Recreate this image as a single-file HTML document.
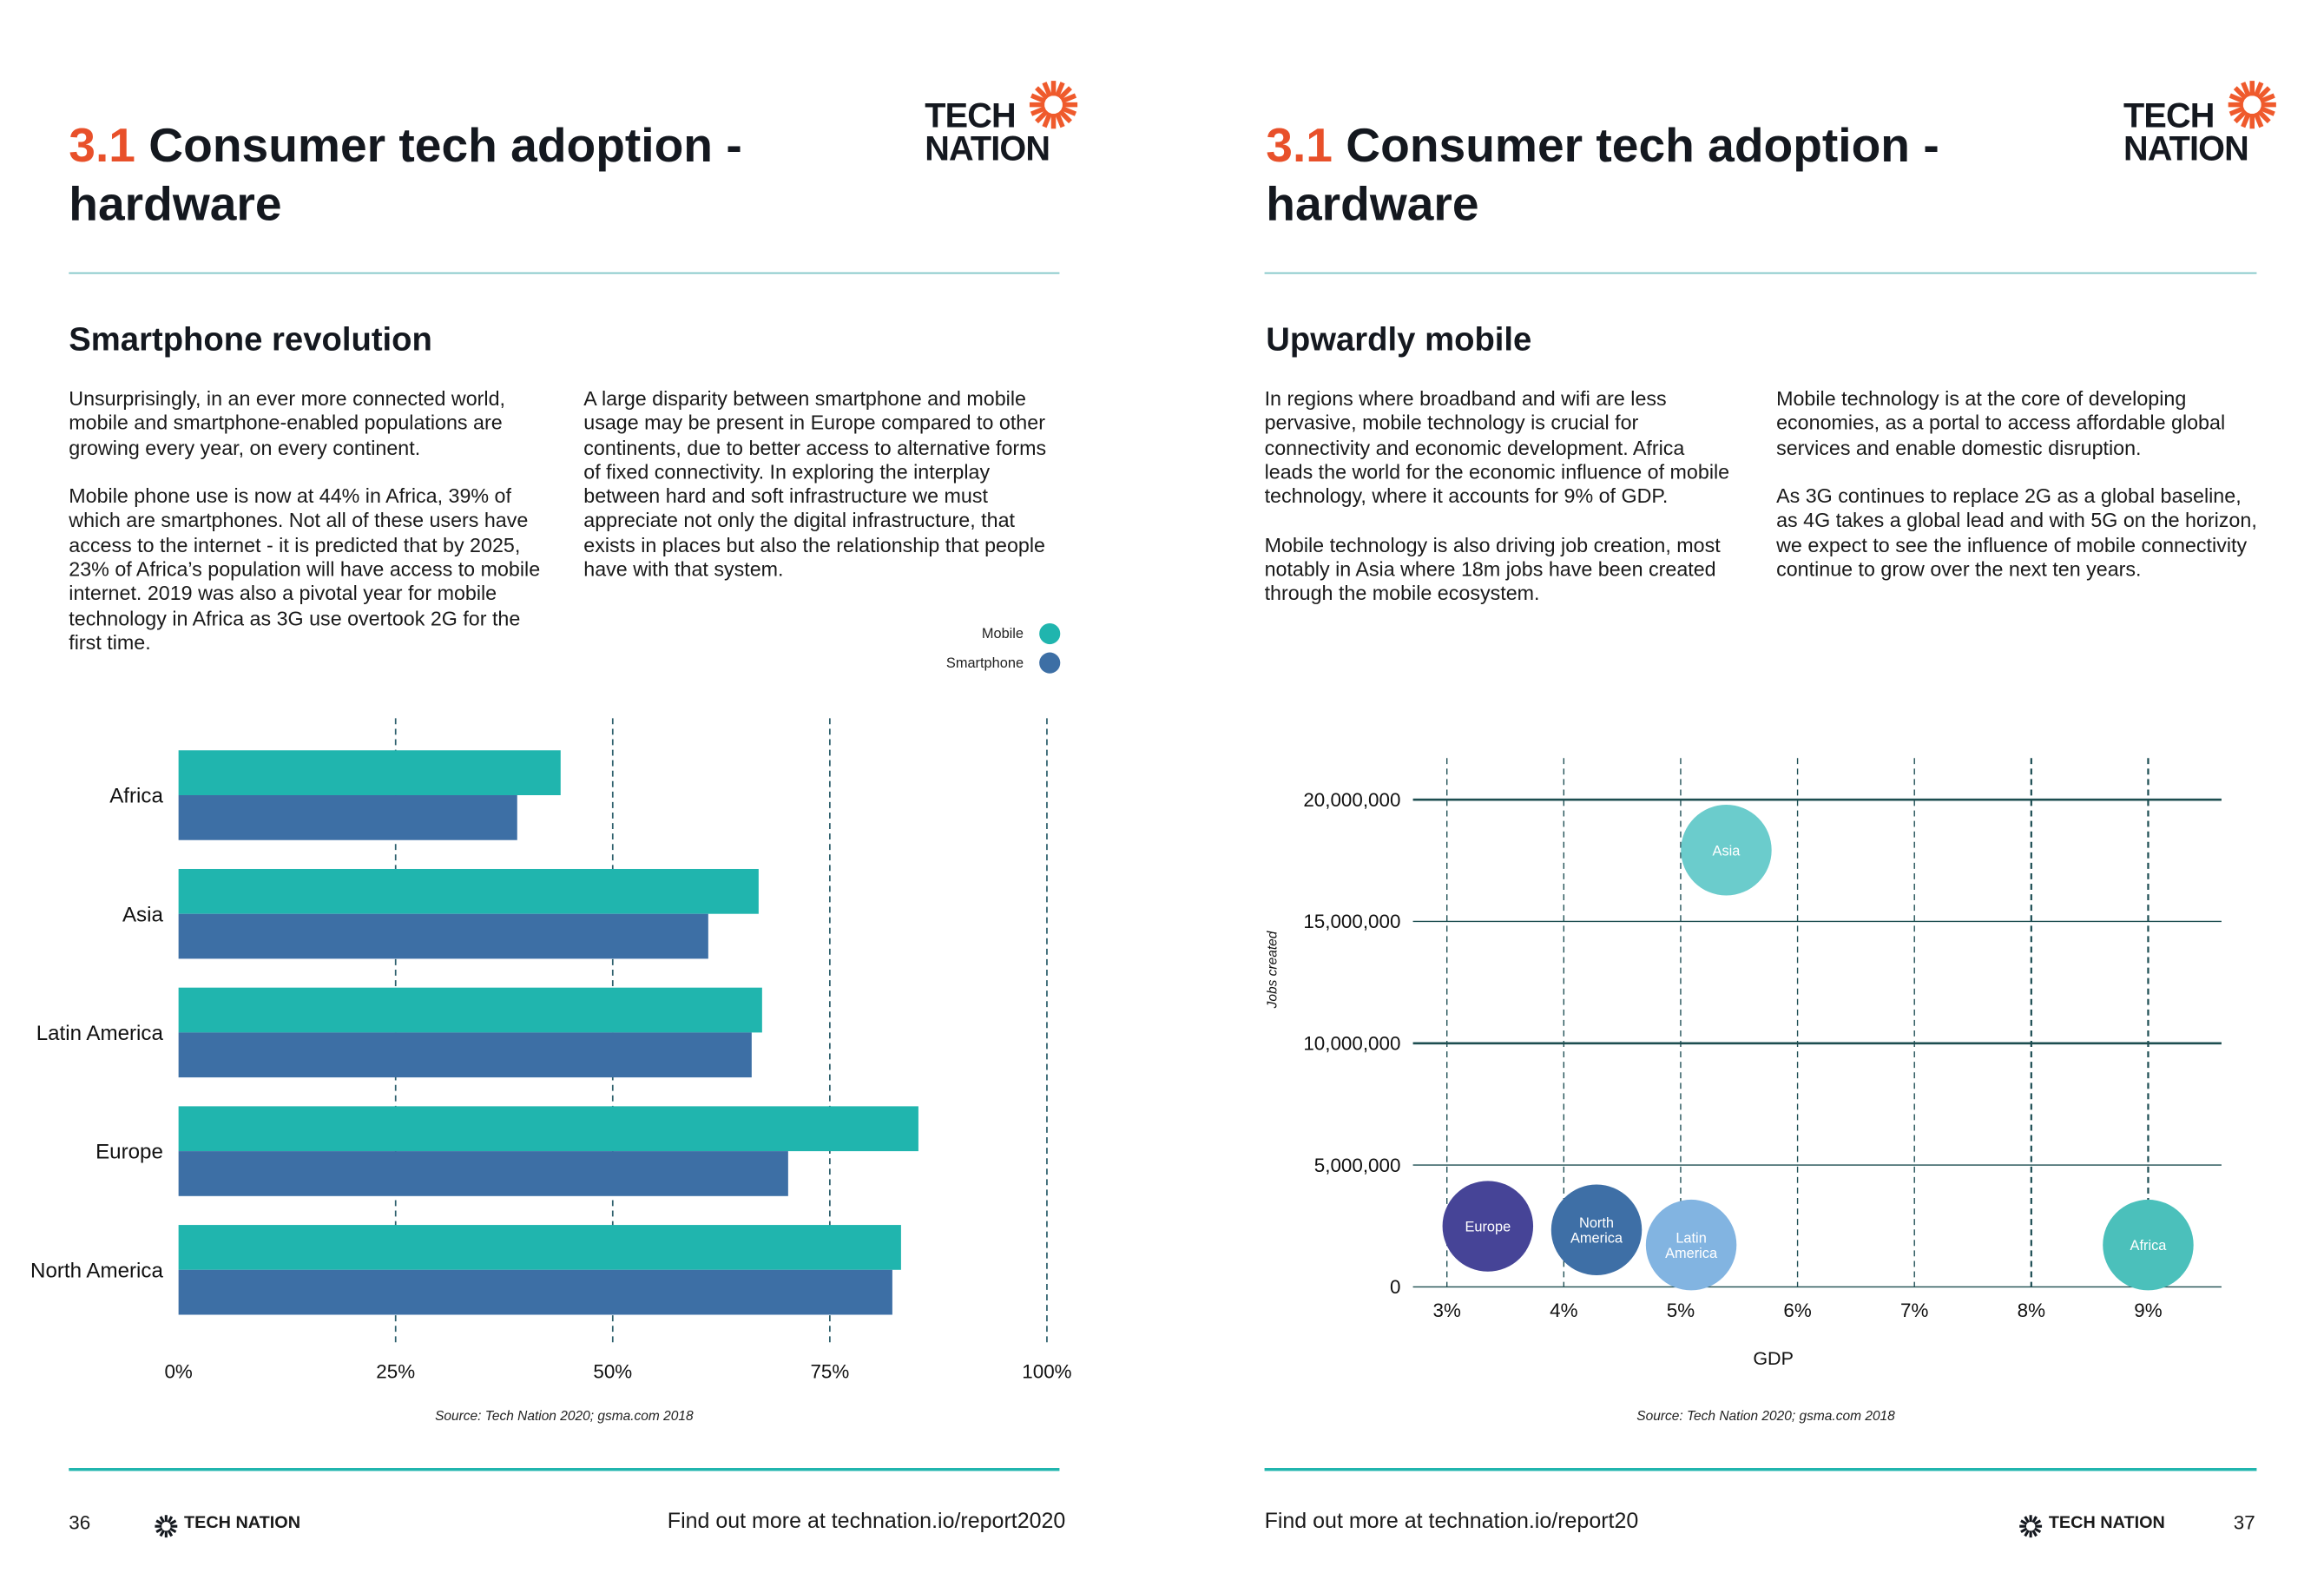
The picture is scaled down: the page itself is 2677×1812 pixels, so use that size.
<!DOCTYPE html>
<html><head><meta charset="utf-8">
<style>
html,body{margin:0;padding:0;background:#fff;}
body{width:2677px;height:1811px;overflow:hidden;position:relative;}
#pg{position:absolute;left:0;top:0;width:1553px;height:1051px;transform:scale(1.72376);transform-origin:0 0;font-family:"Liberation Sans",sans-serif;color:#111;}
.a{position:absolute;white-space:nowrap;}
.title{font-size:32px;font-weight:bold;line-height:39px;color:#14181f;}
.title span{color:#e8502a;}
.h2{font-size:22.2px;font-weight:bold;color:#14181f;}
.p{font-size:13.5px;line-height:16.3px;color:#1a1a1a;}
.rule{position:absolute;height:1px;background:#7cc4c6;}
.frule{position:absolute;height:2px;background:#20b5ae;}
.logo{font-weight:bold;font-size:23px;line-height:22px;color:#14181f;letter-spacing:-0.5px;}
.foot{font-size:14.5px;color:#1a1a1a;}
</style></head><body>
<div id="pg">
<!-- LEFT PAGE -->
<div class="a title" style="left:46px;top:78px;"><span>3.1</span> Consumer tech adoption -<br>hardware</div>
<div class="a logo" style="left:618px;top:66px;">TECH<br>NATION</div>
<svg class="a" style="left:687px;top:53px" width="34" height="34"><g id="sun1" stroke="#ef5a2c" stroke-width="3.2"></g></svg>
<div class="rule" style="left:46px;top:182px;width:662px"></div>
<div class="a h2" style="left:46px;top:214px">Smartphone revolution</div>
<div class="a p" style="left:46px;top:259px">Unsurprisingly, in an ever more connected world,<br>mobile and smartphone-enabled populations are<br>growing every year, on every continent.<br><br>Mobile phone use is now at 44% in Africa, 39% of<br>which are smartphones. Not all of these users have<br>access to the internet - it is predicted that by 2025,<br>23% of Africa’s population will have access to mobile<br>internet. 2019 was also a pivotal year for mobile<br>technology in Africa as 3G use overtook 2G for the<br>first time.</div>
<div class="a p" style="left:390px;top:259px">A large disparity between smartphone and mobile<br>usage may be present in Europe compared to other<br>continents, due to better access to alternative forms<br>of fixed connectivity. In exploring the interplay<br>between hard and soft infrastructure we must<br>appreciate not only the digital infrastructure, that<br>exists in places but also the relationship that people<br>have with that system.</div>
<svg class="a" id="bar" style="left:0;top:410px" width="780" height="560"></svg>
<div class="frule" style="left:46px;top:981px;width:662px"></div>
<div class="a foot" style="left:46px;top:1010px;font-size:13px">36</div>
<svg class="a" style="left:103px;top:1012px" width="16" height="16"><g id="sun2" stroke="#14181f" stroke-width="1.8"></g></svg>
<div class="a foot" style="left:123px;top:1012px;font-weight:bold;font-size:11.5px">TECH NATION</div>
<div class="a foot" style="left:446px;top:1009px">Find out more at technation.io/report2020</div>

<!-- RIGHT PAGE -->
<div class="a title" style="left:846px;top:78px;"><span>3.1</span> Consumer tech adoption -<br>hardware</div>
<div class="a logo" style="left:1419px;top:66px;">TECH<br>NATION</div>
<svg class="a" style="left:1488px;top:53px" width="34" height="34"><g id="sun3" stroke="#ef5a2c" stroke-width="3.2"></g></svg>
<div class="rule" style="left:845px;top:182px;width:663px"></div>
<div class="a h2" style="left:846px;top:214px">Upwardly mobile</div>
<div class="a p" style="left:845px;top:259px">In regions where broadband and wifi are less<br>pervasive, mobile technology is crucial for<br>connectivity and economic development. Africa<br>leads the world for the economic influence of mobile<br>technology, where it accounts for 9% of GDP.<br><br>Mobile technology is also driving job creation, most<br>notably in Asia where 18m jobs have been created<br>through the mobile ecosystem.</div>
<div class="a p" style="left:1187px;top:259px">Mobile technology is at the core of developing<br>economies, as a portal to access affordable global<br>services and enable domestic disruption.<br><br>As 3G continues to replace 2G as a global baseline,<br>as 4G takes a global lead and with 5G on the horizon,<br>we expect to see the influence of mobile connectivity<br>continue to grow over the next ten years.</div>
<svg class="a" id="sc" style="left:830px;top:490px" width="700" height="480"></svg>
<div class="frule" style="left:845px;top:981px;width:663px"></div>
<div class="a foot" style="left:845px;top:1009px">Find out more at technation.io/report20</div>
<svg class="a" style="left:1349px;top:1012px" width="16" height="16"><g id="sun4" stroke="#14181f" stroke-width="1.8"></g></svg>
<div class="a foot" style="left:1369px;top:1012px;font-weight:bold;font-size:11.5px">TECH NATION</div>
<div class="a foot" style="right:46px;top:1010px;font-size:13px">37</div>
</div>
<script>
const NS="http://www.w3.org/2000/svg";
function mk(p,t,at){const e=document.createElementNS(NS,t);for(const k in at)e.setAttribute(k,at[k]);p.appendChild(e);return e;}
function sun(id,cx,cy,r1,r2,n){const g=document.getElementById(id);for(let i=0;i<n;i++){const a=i*2*Math.PI/n;mk(g,'line',{x1:cx+r1*Math.cos(a),y1:cy+r1*Math.sin(a),x2:cx+r2*Math.cos(a),y2:cy+r2*Math.sin(a)});}}
sun('sun1',17,17,6,16,16);sun('sun3',17,17,6,16,16);sun('sun2',8,8,3,7.5,12);sun('sun4',8,8,3,7.5,12);

// ---- Bar chart data ----
const barCategories=["Africa","Asia","Latin America","Europe","North America"];
const mobileValues=[44,66.8,67.2,85.2,83.2];
const smartphoneValues=[39,61,66,70.2,82.2];
const barTicks=[0,25,50,75,100];
const barTickLabels=["0%","25%","50%","75%","100%"];
{
const svg=document.getElementById('bar');const oy=410;
const xS=v=>119.3+v*5.803;
const gTop=i=>501.4-oy+i*79.3;
barTicks.forEach((t,i)=>{
 if(t>0){const l=mk(svg,'line',{x1:xS(t),x2:xS(t),y1:480-oy,y2:900-oy,stroke:'#2d5f6c','stroke-width':1,'stroke-dasharray':'4,3'});
 }
 const tx=mk(svg,'text',{x:xS(t),y:921-oy,'text-anchor':'middle','font-size':13,fill:'#111'});tx.textContent=barTickLabels[i];
 
});
barCategories.forEach((c,i)=>{
 const r1=mk(svg,'rect',{x:xS(0),y:gTop(i),width:xS(mobileValues[i])-xS(0),height:30,fill:'#20b5ae'});
 
 
 const r2=mk(svg,'rect',{x:xS(0),y:gTop(i)+30,width:xS(smartphoneValues[i])-xS(0),height:30,fill:'#3d6fa5'});
 
 
 const t=mk(svg,'text',{x:109,y:gTop(i)+35,'text-anchor':'end','font-size':14,fill:'#111'});t.textContent=c;
 
});
[["Mobile","#20b5ae",423.5],["Smartphone","#3d6fa5",443]].forEach(d=>{
 const t=mk(svg,'text',{x:684,y:d[2]-oy+3,'text-anchor':'end','font-size':9.5,fill:'#222'});t.textContent=d[0];
 
 const c=mk(svg,'circle',{cx:701.5,cy:d[2]-oy,r:7,fill:d[1]});
 
});
const s=mk(svg,'text',{x:377,y:949-oy,'text-anchor':'middle','font-size':9,'font-style':'italic',fill:'#222'});s.textContent="Source: Tech Nation 2020; gsma.com 2018";

}

// ---- Bubble chart data ----
const bubbleNames=["Asia","Europe","North America","Latin America","Africa"];
const gdpValues=[5.39,3.35,4.28,5.09,9.0];
const jobsValues=[17930000,2490000,2340000,1720000,1720000];
const bubbleColors=["#6bcccc","#464497","#3e6fa6","#82b4e1","#4bc0bb"];
const xTicks=[3,4,5,6,7,8,9];
const yTicks=[0,5000000,10000000,15000000,20000000];
const yTickLabels=["0","5,000,000","10,000,000","15,000,000","20,000,000"];
{
const svg=document.getElementById('sc');const ox=830,oy=490;
const xS=v=>966.9-ox+(v-3)*78.1;
const yS=v=>860-oy-v/5000000*81.4;
xTicks.forEach(t=>{
 const l=mk(svg,'line',{x1:xS(t),x2:xS(t),y1:506.6-oy,y2:860-oy,stroke:'#1f4f55','stroke-width':t==8||t==9?1.3:0.8,'stroke-dasharray':'4,3'});
 
 const tx=mk(svg,'text',{x:xS(t),y:880-oy,'text-anchor':'middle','font-size':13,fill:'#111'});tx.textContent=t+"%";
 
});
yTicks.forEach((t,i)=>{
 const thick=(t==20000000||t==10000000)?1.5:0.8;
 const l=mk(svg,'line',{x1:944.2-ox,x2:1484.5-ox,y1:yS(t),y2:yS(t),stroke:'#1d4e50','stroke-width':thick});
 
 const tx=mk(svg,'text',{x:936-ox,y:yS(t)+4.5,'text-anchor':'end','font-size':13,fill:'#111'});tx.textContent=yTickLabels[i];
 
});
bubbleNames.forEach((n,i)=>{
 const g=mk(svg,'g',{});
 
 
 mk(g,'circle',{cx:xS(gdpValues[i]),cy:yS(jobsValues[i]),r:30.3,fill:bubbleColors[i]});
 const parts=n.split(' ');
 parts.forEach((p,j)=>{const t=mk(g,'text',{x:xS(gdpValues[i]),y:yS(jobsValues[i])+3.5+(j-(parts.length-1)/2)*10,'text-anchor':'middle','font-size':9.5,fill:'#fff'});t.textContent=p;});
});
const gx=mk(svg,'text',{x:1185-ox,y:912-oy,'text-anchor':'middle','font-size':12.5,fill:'#111'});gx.textContent="GDP";

const gy=mk(svg,'text',{x:0,y:0,'text-anchor':'middle','font-size':9,'font-style':'italic',fill:'#111',transform:`translate(${853-ox},${648-oy}) rotate(-90)`});gy.textContent="Jobs created";

const s=mk(svg,'text',{x:1180-ox,y:949-oy,'text-anchor':'middle','font-size':9,'font-style':'italic',fill:'#222'});s.textContent="Source: Tech Nation 2020; gsma.com 2018";

}
</script>
</body></html>
